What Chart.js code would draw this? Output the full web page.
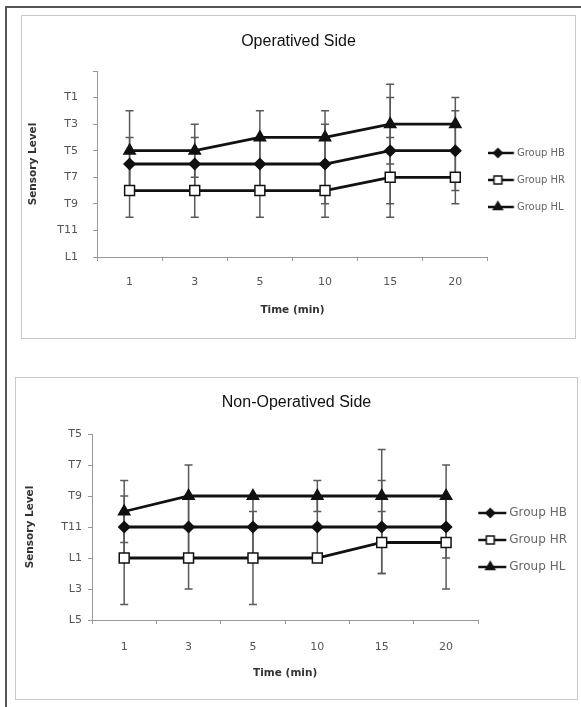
<!DOCTYPE html>
<html>
<head>
<meta charset="utf-8">
<script src="https://cdn.jsdelivr.net/npm/chart.js@4.4.1/dist/chart.umd.min.js"></script>
<style>
  html, body { margin: 0; padding: 0; background: #fff; }
  body { width: 581px; height: 707px; position: relative; overflow: hidden; }
  .frame { position: absolute; left: 5px; top: 6px; width: 590px; height: 720px; border-top: 2px solid #555; border-left: 2px solid #555; }
  .box { position: absolute; border: 1px solid #c9c9c9; background: #fff; }
  #box1 { left: 21px; top: 15px; }
  #box2 { left: 15px; top: 377px; }
  canvas { display: block; }
</style>
</head>
<body>
<div class="frame"></div>
<div class="box" id="box1"><canvas id="opChart" width="553" height="322"></canvas></div>
<div class="box" id="box2"><canvas id="nonOpChart" width="561" height="321"></canvas></div>
<script>
// time points (min)
const timeLabels = ['1', '3', '5', '10', '15', '20'];
const seriesNames = ['Group HB', 'Group HR', 'Group HL'];

// sensory level coded as segment index: T1=1 ... T12=12, L1=13, L3=15, L5=17
const opLevelTicks = [-1, 1, 3, 5, 7, 9, 11, 13];
const opLevelLabels = ['', 'T1', 'T3', 'T5', 'T7', 'T9', 'T11', 'L1'];
const opHB = [6, 6, 6, 6, 5, 5];
const opHR = [8, 8, 8, 8, 7, 7];
const opHL = [5, 5, 4, 4, 3, 3];
const opErrHB = [2, 2, 2, 3, 4, 3];
const opErrHR = [2, 2, 2, 2, 3, 2];
const opErrHL = [3, 2, 2, 2, 3, 2];

const nonLevelTicks = [5, 7, 9, 11, 13, 15, 17];
const nonLevelLabels = ['T5', 'T7', 'T9', 'T11', 'L1', 'L3', 'L5'];
const nonHB = [11, 11, 11, 11, 11, 11];
const nonHR = [13, 13, 13, 13, 12, 12];
const nonHL = [10, 9, 9, 9, 9, 9];
const nonErrHB = [2, 2, 2, 2, 3, 2];
const nonErrHR = [3, 2, 3, 0, 2, 3];
const nonErrHL = [2, 2, 0, 1, 3, 2];

const markers = [
  { style: 'rectRot', radius: 5.5, fill: '#111' },
  { style: 'rect', radius: 7, fill: '#fff' },
  { style: 'triangle', radius: 6.5, fill: '#111' }
];

// vertical error bars, drawn behind the lines
const errorBarPlugin = {
  id: 'errorBars',
  beforeDatasetsDraw(chart) {
    const ctx = chart.ctx;
    const yScale = chart.scales.y;
    ctx.save();
    ctx.strokeStyle = '#5a5a5a';
    ctx.lineWidth = 1.5;
    chart.data.datasets.forEach((ds, i) => {
      const meta = chart.getDatasetMeta(i);
      meta.data.forEach((pt, j) => {
        const e = ds.errors[j];
        if (!e) return;
        const top = yScale.getPixelForValue(ds.data[j] - e);
        const bot = yScale.getPixelForValue(ds.data[j] + e);
        ctx.beginPath();
        ctx.moveTo(pt.x, top); ctx.lineTo(pt.x, bot);
        ctx.moveTo(pt.x - 4, top); ctx.lineTo(pt.x + 4, top);
        ctx.moveTo(pt.x - 4, bot); ctx.lineTo(pt.x + 4, bot);
        ctx.stroke();
      });
    });
    ctx.restore();
  }
};

// little line + marker picture for the legend
function legendIcon(m, offset) {
  const c = document.createElement('canvas');
  c.width = 64; c.height = 16;
  const g = c.getContext('2d');
  g.strokeStyle = '#111';
  g.lineWidth = 2.5;
  g.beginPath(); g.moveTo(offset, 8); g.lineTo(offset + 32, 8); g.stroke();
  g.fillStyle = m.fill;
  g.lineWidth = 1.5;
  Chart.helpers.drawPoint(g, { pointStyle: m.style, radius: m.radius * 0.8, borderWidth: 1.5, rotation: 0 }, offset + 16, 8);
  return c;
}

function makeDatasets(values, errors) {
  return values.map((v, i) => ({
    label: seriesNames[i],
    data: v,
    errors: errors[i],
    borderColor: '#111',
    borderWidth: 2.8,
    tension: 0,
    pointStyle: markers[i].style,
    pointRadius: markers[i].radius,
    pointBackgroundColor: markers[i].fill,
    pointBorderColor: '#111',
    pointBorderWidth: 1.5
  }));
}

const tickFont = { family: 'DejaVu Sans', size: 11 };
const axisTitleFont = { family: 'DejaVu Sans', size: 10.5, weight: 'bold' };

function buildChart(id, s) {
  const icons = markers.map(m => legendIcon(m, s.iconOffset));
  return new Chart(document.getElementById(id), {
    type: 'line',
    data: { labels: timeLabels, datasets: makeDatasets(s.values, s.errors) },
    options: {
      responsive: false,
      animation: false,
      devicePixelRatio: 1,
      layout: { padding: 0 },
      plugins: {
        title: {
          display: true,
          text: s.title,
          color: '#111',
          font: { family: 'Liberation Sans', size: 16, weight: 'normal' },
          padding: s.titlePad
        },
        legend: {
          position: 'right',
          title: { display: true, text: '', font: { size: 1 }, padding: s.legendTitlePad },
          labels: {
            usePointStyle: true,
            pointStyleWidth: s.iconBox,
            padding: s.legendPad,
            color: '#555',
            font: { family: 'DejaVu Sans', size: s.legendFont },
            generateLabels: (chart) => chart.data.datasets.map((ds, i) => ({
              text: ds.label,
              pointStyle: icons[i],
              datasetIndex: i,
              lineWidth: 0,
              hidden: false
            }))
          }
        },
        tooltip: { enabled: false }
      },
      scales: {
        x: {
          offset: true,
          grid: { offset: true, drawOnChartArea: false, tickLength: 4, color: '#999' },
          border: { color: '#999' },
          ticks: { padding: s.xTickPad, color: '#555', font: tickFont, maxRotation: 0 },
          title: { display: true, text: 'Time (min)', color: '#333', font: axisTitleFont, padding: { top: 0, bottom: s.xTitlePad } },
          afterFit: (scale) => { scale.height = s.xHeight; }
        },
        y: {
          reverse: true,
          min: s.ticks[0],
          max: s.ticks[s.ticks.length - 1],
          grid: { drawOnChartArea: false, tickLength: 4, color: '#999' },
          border: { color: '#999' },
          ticks: {
            stepSize: 2,
            padding: s.yTickPad,
            color: '#555',
            font: tickFont,
            callback: (v) => { const k = s.ticks.indexOf(v); return k < 0 ? '' : s.tickLabels[k]; }
          },
          title: { display: true, text: 'Sensory Level', color: '#333', font: axisTitleFont, padding: { top: s.yTitlePad, bottom: 0 } },
          afterFit: (scale) => { scale.width = s.yWidth; }
        }
      }
    },
    plugins: [errorBarPlugin]
  });
}

buildChart('opChart', {
  title: 'Operatived Side',
  values: [opHB, opHR, opHL],
  errors: [opErrHB, opErrHR, opErrHL],
  ticks: opLevelTicks,
  tickLabels: opLevelLabels,
  titlePad: { top: 16.4, bottom: 19.4 },
  legendTitlePad: { top: 2.4, bottom: 2.4 },
  legendPad: 17,
  legendFont: 10,
  iconBox: 7,
  iconOffset: 5.5,
  xTickPad: 14.4,
  xTitlePad: 21.7,
  xHeight: 81,
  yTickPad: 15,
  yTitlePad: 4.7,
  yWidth: 75
});

buildChart('nonOpChart', {
  title: 'Non-Operatived Side',
  values: [nonHB, nonHR, nonHL],
  errors: [nonErrHB, nonErrHR, nonErrHL],
  ticks: nonLevelTicks,
  tickLabels: nonLevelLabels,
  titlePad: { top: 15.4, bottom: 21.4 },
  legendTitlePad: { top: 0.9, bottom: 0.9 },
  legendPad: 15,
  legendFont: 12,
  iconBox: 10,
  iconOffset: 8,
  xTickPad: 16.4,
  xTitlePad: 19.7,
  xHeight: 79,
  yTickPad: 6,
  yTitlePad: 7.7,
  yWidth: 76
});
</script>
</body>
</html>
